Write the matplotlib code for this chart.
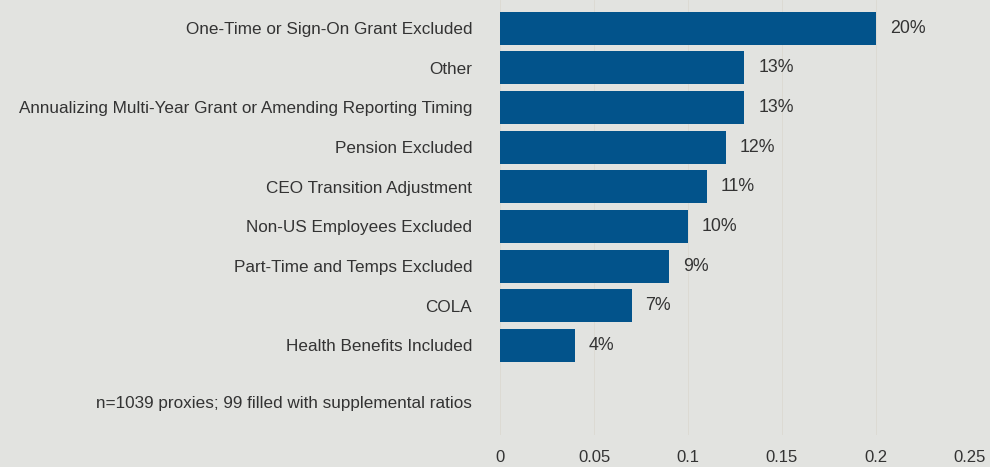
import numpy as np
import matplotlib
matplotlib.use("Agg")
import matplotlib.pyplot as plt

categories = [
    "One-Time or Sign-On Grant Excluded",
    "Other",
    "Annualizing Multi-Year Grant or Amending Reporting Timing",
    "Pension Excluded",
    "CEO Transition Adjustment",
    "Non-US Employees Excluded",
    "Part-Time and Temps Excluded",
    "COLA",
    "Health Benefits Included",
]
shares = [0.20, 0.13, 0.13, 0.12, 0.11, 0.10, 0.09, 0.07, 0.04]
note = "n=1039 proxies; 99 filled with supplemental ratios"
xticks = [0, 0.05, 0.1, 0.15, 0.2, 0.25]
xtick_labels = ["0", "0.05", "0.1", "0.15", "0.2", "0.25"]

bg = "#e2e3e0"
bar_color = "#02538b"
text_color = "#333333"

plt.rcParams["font.family"] = ["Liberation Sans", "DejaVu Sans"]

fig = plt.figure(figsize=(9.9, 4.67), dpi=100, facecolor=bg)
ax = fig.add_axes([500 / 990, 32 / 467, 470 / 990, 435 / 467])
ax.set_facecolor(bg)

y = np.arange(len(categories))
bars = ax.barh(y, shares, height=0.83, color=bar_color, zorder=3)

for rect, v in zip(bars, shares):
    ax.annotate(f"{v * 100:.0f}%", (rect.get_width(), rect.get_y() + rect.get_height() / 2),
                xytext=(10, 0), textcoords="offset points", va="center", ha="left",
                fontsize=12.8, color=text_color)

ax.set_xlim(0, 0.25)
ax.set_ylim(10.26, -0.71)
ax.set_xticks(xticks)
ax.set_xticklabels(xtick_labels)
ax.set_yticks(list(y) + [9.42])
ax.set_yticklabels(categories + [note])
ax.tick_params(axis="both", length=0, labelsize=12.3, colors=text_color)
ax.tick_params(axis="x", labelsize=12, pad=11)
ax.tick_params(axis="y", pad=20)
ax.grid(axis="x", color="#dbd9d1", linewidth=0.6, zorder=0)
for s in ax.spines.values():
    s.set_visible(False)

fig.savefig("out.png", dpi=100, facecolor=bg)
